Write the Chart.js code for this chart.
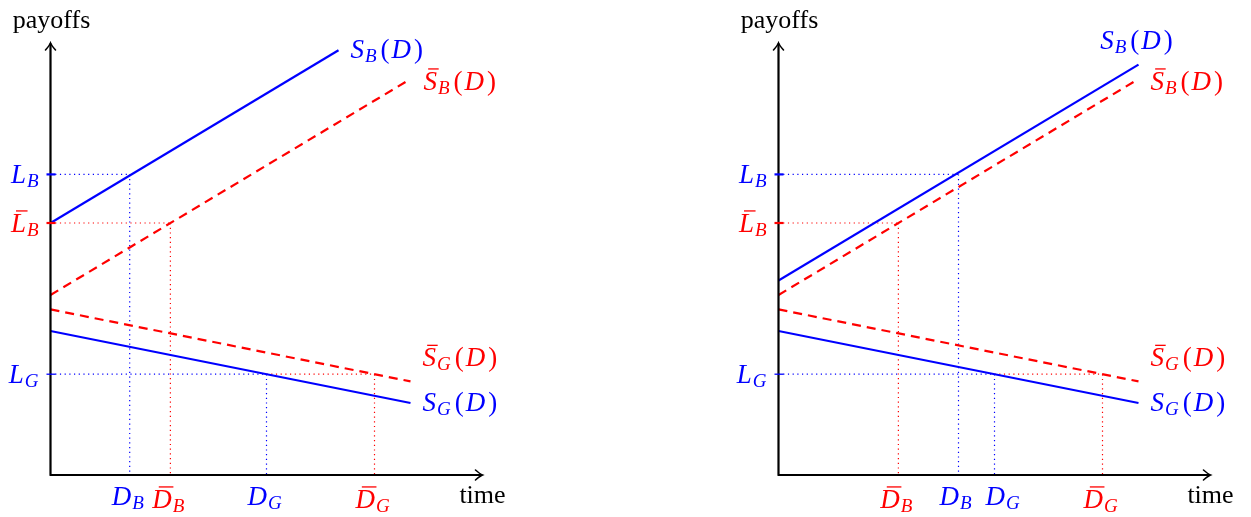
<!DOCTYPE html>
<html lang="es">
<head>
<meta charset="utf-8">
<title>Pagos en el tiempo</title>
<script src="https://cdn.jsdelivr.net/npm/chart.js@4.4.1/dist/chart.umd.min.js"></script>
<style>
  html, body { margin: 0; padding: 0; background: #fff; }
  .panel { position: absolute; top: 0; width: 520px; height: 517px; }
</style>
</head>
<body>
<div class="panel" style="left:0"><canvas id="graficaIzq" width="520" height="517"></canvas></div>
<div class="panel" style="left:728px"><canvas id="graficaDer" width="520" height="517"></canvas></div>
<script>
// Títulos de los ejes
const tituloY = "payoffs";
const tituloX = "time";

// Niveles marcados en el eje de pagos
const nivelesY = ["L_B", "L\u0304_B", "L_G"];
const valoresY = [8.35, 7, 2.8];
const coloresY = ["blue", "red", "blue"];

// Fechas marcadas en el eje del tiempo (cada fecha cae sobre un nivel)
const fechasX = ["D_B", "D\u0304_B", "D_G", "D\u0304_G"];
const valoresXIzq = [2.2, 3.33, 6, 9];
const valoresXDer = [5, 3.33, 6, 9];
const coloresX = ["blue", "red", "blue", "red"];
const nivelDeFecha = [0, 1, 2, 2];

// Rectas: inicio y final de cada una
const nombresSeries = ["S_B(D)", "S\u0304_B(D)", "S\u0304_G(D)", "S_G(D)"];
const tiempoSBIzq = [0, 8];
const pagoSBIzq = [7, 11.8];
const tiempoSBDer = [0, 10];
const pagoSBDer = [5.4, 11.4];
const tiempoSBbarra = [0, 10];
const pagoSBbarra = [5, 11];
const tiempoSGbarra = [0, 10];
const pagoSGbarra = [4.6, 2.6];
const tiempoSG = [0, 10];
const pagoSG = [4, 2];

const FUENTE = '"Liberation Serif", "Times New Roman", serif';
const TAM = 27;

function recta(xs, ys, color, discontinua) {
    return {
        data: xs.map((x, i) => ({ x: x, y: ys[i] })),
        borderColor: color,
        borderWidth: 2.2,
        borderDash: discontinua ? [9, 6] : [],
        pointRadius: 0,
        showLine: true,
        fill: false
    };
}

function punteada(puntos, color) {
    return {
        data: puntos,
        borderColor: color,
        borderWidth: 1.2,
        borderDash: [1.2, 3.5],
        pointRadius: 0,
        showLine: true,
        fill: false
    };
}

//Líneas guía desde cada nivel hasta su fecha
function guias(valoresX) {
    const ds = [];
    valoresX.forEach((x, i) => {
        const y = valoresY[nivelDeFecha[i]];
        const x0 = i === 3 ? valoresX[2] : 0;
        ds.push(punteada([{ x: x0, y: y }, { x: x, y: y }], coloresX[i]));
        ds.push(punteada([{ x: x, y: y }, { x: x, y: 0 }], coloresX[i]));
    });
    return ds;
}

// "S̄_B(D)" -> letra, barra, subíndice y resto
function partes(txt) {
    let i = 1, barra = false, sub = "";
    if (txt[i] === "\u0304") { barra = true; i++; }
    if (txt[i] === "_") { sub = txt[i + 1]; i += 2; }
    return { base: txt[0], barra: barra, sub: sub, cola: txt.slice(i) };
}

function escribeMate(ctx, txt, x, y, alin, color) {
    const p = partes(txt);
    const ts = Math.round(TAM * 0.7);
    ctx.font = "italic " + TAM + "px " + FUENTE;
    const wb = ctx.measureText(p.base).width + 2;
    ctx.font = "italic " + ts + "px " + FUENTE;
    const ws = p.sub ? ctx.measureText(p.sub).width + 3 : 0;
    const trozos = [];
    let wc = 0;
    for (const c of p.cola) {
        const it = /[A-Za-z]/.test(c);
        ctx.font = (it ? "italic " : "") + TAM + "px " + FUENTE;
        const w = ctx.measureText(c).width + (it ? 3 : 2);
        trozos.push([c, it, w]);
        wc += w;
    }
    const total = wb + ws + wc;
    let x0 = alin === "center" ? x - total / 2 : alin === "right" ? x - total : x;
    ctx.fillStyle = color;
    ctx.textAlign = "left";
    ctx.textBaseline = "alphabetic";
    ctx.font = "italic " + TAM + "px " + FUENTE;
    ctx.fillText(p.base, x0, y);
    if (p.barra) {
        ctx.strokeStyle = color;
        ctx.lineWidth = 1.3;
        ctx.beginPath();
        ctx.moveTo(x0 + wb * 0.3, y - TAM * 0.78);
        ctx.lineTo(x0 + wb * 0.98, y - TAM * 0.78);
        ctx.stroke();
    }
    x0 += wb;
    if (p.sub) {
        ctx.font = "italic " + ts + "px " + FUENTE;
        ctx.fillText(p.sub, x0 - 1, y + 4);
        x0 += ws;
    }
    for (const t of trozos) {
        ctx.font = (t[1] ? "italic " : "") + TAM + "px " + FUENTE;
        ctx.fillText(t[0], x0, y);
        x0 += t[2];
    }
}

const ejesYTextos = {
    id: "ejesYTextos",
    afterDatasetsDraw(chart, args, opts) {
        const ctx = chart.ctx;
        const ex = chart.scales.x, ey = chart.scales.y;
        const ox = ex.getPixelForValue(0), oy = ey.getPixelForValue(0);
        const fx = ex.getPixelForValue(12), fy = ey.getPixelForValue(12);
        ctx.save();
        // ejes
        ctx.strokeStyle = "#000";
        ctx.lineWidth = 2.2;
        ctx.beginPath();
        ctx.moveTo(ox - 1, oy);
        ctx.lineTo(fx - 0.5, oy);
        ctx.moveTo(ox, oy);
        ctx.lineTo(ox, fy + 0.5);
        ctx.stroke();
        // puntas de flecha
        ctx.lineWidth = 1.6;
        ctx.lineCap = "round";
        ctx.beginPath();
        ctx.moveTo(fx - 7, oy - 5);
        ctx.quadraticCurveTo(fx - 2.5, oy - 1, fx, oy);
        ctx.quadraticCurveTo(fx - 2.5, oy + 1, fx - 7, oy + 5);
        ctx.moveTo(ox - 5, fy + 7);
        ctx.quadraticCurveTo(ox - 1, fy + 2.5, ox, fy);
        ctx.quadraticCurveTo(ox + 1, fy + 2.5, ox + 5, fy + 7);
        ctx.stroke();
        // marcas del eje de pagos
        ctx.lineCap = "butt";
        ctx.lineWidth = 2.2;
        valoresY.forEach((v, i) => {
            const py = ey.getPixelForValue(v);
            ctx.strokeStyle = coloresY[i];
            ctx.beginPath();
            ctx.moveTo(ox - 4, py);
            ctx.lineTo(ox + 5, py);
            ctx.stroke();
            escribeMate(ctx, nivelesY[i], ox - 8, py + 9, "right", coloresY[i]);
        });
        // fechas (con un pequeño corrimiento si se tocan)
        opts.fechas.forEach((v, i) => {
            const px = ex.getPixelForValue(v) + (opts.corrimiento[i] || 0);
            const barra = fechasX[i].indexOf("\u0304") > 0;
            escribeMate(ctx, fechasX[i], px, oy + (barra ? 33 : 30), "center", coloresX[i]);
        });
        // títulos
        ctx.fillStyle = "#000";
        ctx.font = "26px " + FUENTE;
        ctx.textAlign = "center";
        ctx.fillText(tituloY, ox + 1, 28);
        ctx.fillText(tituloX, fx, oy + 28);
        // nombres de las rectas
        opts.posiciones.forEach((pos, i) => {
            const pts = chart.getDatasetMeta(i).data;
            const fin = pts[pts.length - 1];
            const color = chart.data.datasets[i].borderColor;
            escribeMate(ctx, nombresSeries[i], fin.x + pos[0], fin.y + pos[1], pos[2], color);
        });
        ctx.restore();
    }
};

function crearPanel(id, tiemposSB, pagosSB, valoresX, posiciones, corrimiento) {
    const datasets = [
        recta(tiemposSB, pagosSB, "blue", false),
        recta(tiempoSBbarra, pagoSBbarra, "red", true),
        recta(tiempoSGbarra, pagoSGbarra, "red", true),
        recta(tiempoSG, pagoSG, "blue", false)
    ].concat(guias(valoresX));

    return new Chart(document.getElementById(id), {
        type: "scatter",
        data: { datasets: datasets },
        options: {
            responsive: false,
            animation: false,
            devicePixelRatio: 1,
            layout: { padding: { left: 50.5, right: 37.5, top: 43, bottom: 42 } },
            scales: {
                x: { type: "linear", min: 0, max: 12, display: false },
                y: { type: "linear", min: 0, max: 12, display: false }
            },
            plugins: {
                legend: { display: false },
                tooltip: { enabled: false },
                ejesYTextos: { fechas: valoresX, posiciones: posiciones, corrimiento: corrimiento }
            }
        },
        plugins: [ejesYTextos]
    });
}

crearPanel("graficaIzq", tiempoSBIzq, pagoSBIzq, valoresXIzq,
    [[12, 8, "left"], [13, 11, "left"], [12, -15, "left"], [12, 8, "left"]],
    [0, 0, 0, 0]);
crearPanel("graficaDer", tiempoSBDer, pagoSBDer, valoresXDer,
    [[-1, -16, "center"], [12, 11, "left"], [12, -15, "left"], [12, 8, "left"]],
    [-1, 0, 10, 0]);
</script>
</body>
</html>
